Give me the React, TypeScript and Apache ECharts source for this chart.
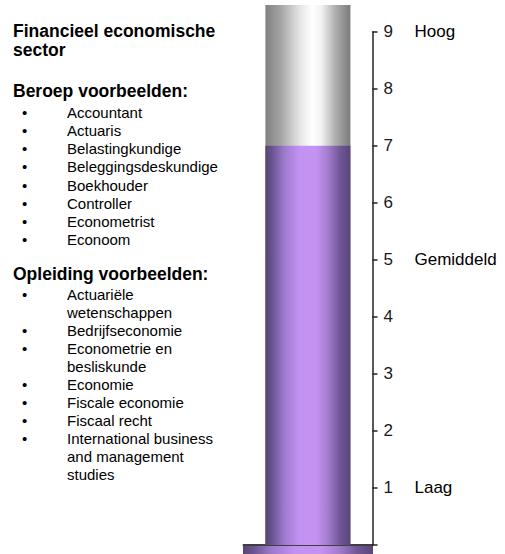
import React, { useEffect, useRef } from "react";
import * as echarts from "echarts";

// ---- data ----
const categories = ["Financieel economische sector"];
const scoreValues = [7];
const columnTopValues = [9.47]; // grey tube behind the score, reaches above the scale
const axisMin = 0;
const axisMax = 9;
const axisInterval = 1;
const levelValues = [1, 5, 9];
const levelNames = ["Laag", "Gemiddeld", "Hoog"];

const titleLines = ["Financieel economische", "sector"];
const beroepHeading = "Beroep voorbeelden:";
const beroepen = [
  "Accountant",
  "Actuaris",
  "Belastingkundige",
  "Beleggingsdeskundige",
  "Boekhouder",
  "Controller",
  "Econometrist",
  "Econoom",
];
const opleidingHeading = "Opleiding voorbeelden:";
const opleidingen = [
  ["Actuariële", "wetenschappen"],
  ["Bedrijfseconomie"],
  ["Econometrie en", "besliskunde"],
  ["Economie"],
  ["Fiscale economie"],
  ["Fiscaal recht"],
  ["International business", "and management", "studies"],
];

const FONT = '"Liberation Sans", Arial, Helvetica, sans-serif';

function purpleGrad() {
  return new echarts.graphic.LinearGradient(0, 0, 1, 0, [
    { offset: 0, color: "#574474" },
    { offset: 0.08, color: "#6a5490" },
    { offset: 0.22, color: "#9c7acc" },
    { offset: 0.4, color: "#c292f2" },
    { offset: 0.6, color: "#c492f2" },
    { offset: 0.74, color: "#a27ccc" },
    { offset: 0.88, color: "#705696" },
    { offset: 1, color: "#5a4678" },
  ]);
}
function greyGrad() {
  return new echarts.graphic.LinearGradient(0, 0, 1, 0, [
    { offset: 0, color: "#808080" },
    { offset: 0.18, color: "#a4a4a4" },
    { offset: 0.4, color: "#e4e4e4" },
    { offset: 0.55, color: "#ffffff" },
    { offset: 0.66, color: "#f2f2f2" },
    { offset: 0.82, color: "#b0b0b0" },
    { offset: 1, color: "#7a7a7a" },
  ]);
}

function buildTextGraphics() {
  const els: any[] = [];
  const txt = (s: string, x: number, baseline: number, size: number, bold: boolean) => {
    els.push({
      type: "text",
      x,
      y: baseline - size * 0.35,
      silent: true,
      style: {
        text: s,
        font: `${bold ? "bold " : ""}${size}px ${FONT}`,
        fill: "#000",
        textVerticalAlign: "middle",
        verticalAlign: "middle",
      },
    });
  };
  const headSize = 17.5;
  const itemSize = 15;
  const bulletX = 22;
  const itemX = 67;
  const step = 18.2;
  txt(titleLines[0], 13, 36.7, headSize, true);
  txt(titleLines[1], 13, 56, headSize, true);
  txt(beroepHeading, 13, 97.3, headSize, true);
  let y = 117.5;
  beroepen.forEach((b) => {
    txt("•", bulletX, y, itemSize, false);
    txt(b, itemX, y, itemSize, false);
    y += step;
  });
  txt(opleidingHeading, 13, 280, headSize, true);
  y = 300;
  opleidingen.forEach((lines) => {
    txt("•", bulletX, y, itemSize, false);
    lines.forEach((l) => {
      txt(l, itemX, y, itemSize, false);
      y += 18;
    });
  });
  return els;
}

export default function App() {
  const ref = useRef<HTMLDivElement>(null);
  useEffect(() => {
    if (!ref.current) return;
    const chart = echarts.init(ref.current, null, { renderer: "svg" });
    const nameByLevel: Record<number, string> = {};
    levelValues.forEach((v, i) => (nameByLevel[v] = levelNames[i]));

    chart.setOption({
      animation: false,
      backgroundColor: "#fff",
      grid: { left: 243.3, right: 132.5, top: 31.7, bottom: 9, containLabel: false },
      xAxis: {
        type: "category",
        data: categories,
        axisLine: { show: true, lineStyle: { color: "#000", width: 1.5 } },
        axisTick: { show: false },
        axisLabel: { show: false },
        splitLine: { show: false },
      },
      yAxis: {
        type: "value",
        position: "right",
        min: axisMin,
        max: axisMax,
        interval: axisInterval,
        axisLine: { show: true, lineStyle: { color: "#222", width: 1.5 } },
        axisTick: { show: true, inside: false, length: 5, lineStyle: { color: "#222", width: 1.5 } },
        splitLine: { show: false },
        axisLabel: {
          margin: 11,
          formatter: (v: number) =>
            v === 0 ? "" : `{n|${v}}` + (nameByLevel[v] ? `{t|${nameByLevel[v]}}` : ""),
          rich: {
            n: { width: 31, fontSize: 17, fontFamily: FONT, color: "#1a1a1a" },
            t: { fontSize: 17, fontFamily: FONT, color: "#000" },
          },
        },
      },
      series: [
        {
          type: "bar",
          data: columnTopValues,
          barWidth: 85,
          barGap: "-100%",
          clip: false,
          silent: true,
          itemStyle: { color: greyGrad() },
          z: 1,
        },
        {
          type: "bar",
          data: scoreValues,
          barWidth: 85,
          barGap: "-100%",
          clip: false,
          silent: true,
          itemStyle: { color: purpleGrad() },
          z: 2,
        },
      ],
      graphic: [
        {
          type: "rect",
          silent: true,
          shape: { x: 243, y: 546, width: 130, height: 10 },
          style: { fill: purpleGrad() },
        },
        ...buildTextGraphics(),
      ],
    });
    return () => chart.dispose();
  }, []);
  return (
    <div
      ref={ref}
      style={{ position: "fixed", left: 0, top: 0, width: 505, height: 554 }}
    />
  );
}
